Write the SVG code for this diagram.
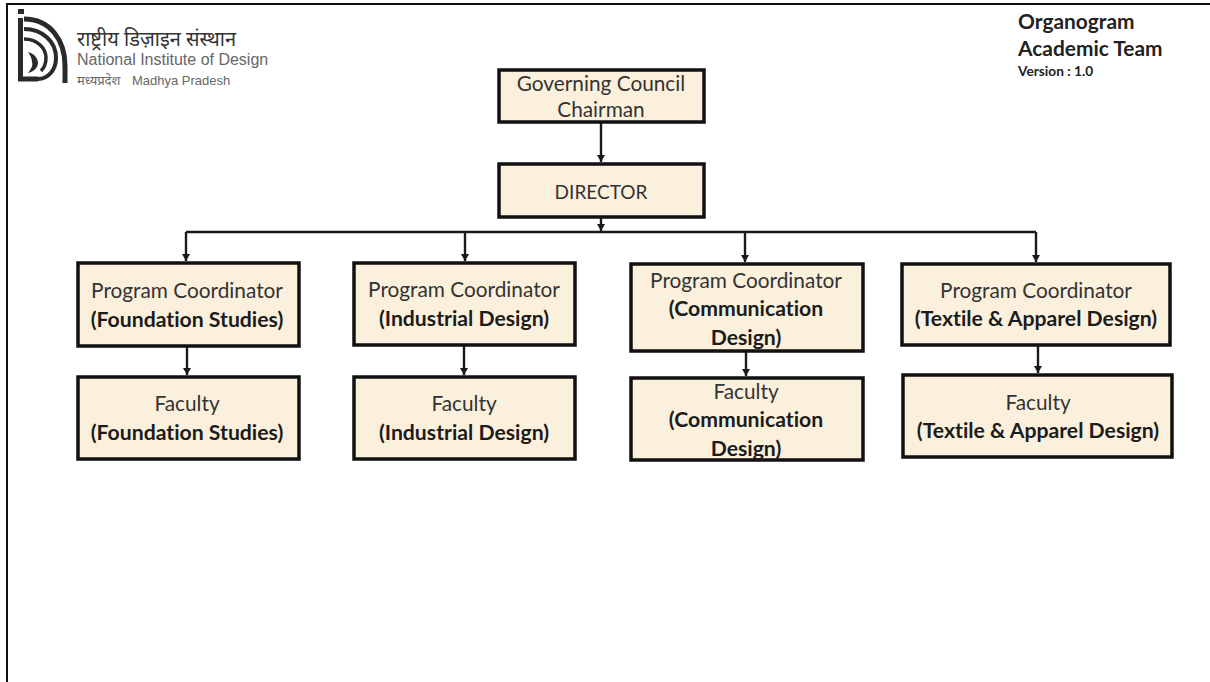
<svg xmlns="http://www.w3.org/2000/svg" width="1210" height="682" viewBox="0 0 1210 682">
<style>
.box{fill:#fbf0dc;stroke:#111;stroke-width:3.5}
.t{font-family:Lato,"Open Sans",sans-serif;font-size:20.8px;fill:#333;text-anchor:middle;font-variant-ligatures:none}
.b{font-size:21.2px;font-weight:700;fill:#1c1c1c}
.c{fill:none;stroke:#1a1a1a;stroke-width:2.4}
.h{font-family:Lato,"Open Sans",sans-serif;font-weight:700;fill:#222;font-variant-ligatures:none}
</style>
<defs><marker id="a" markerUnits="userSpaceOnUse" markerWidth="10" markerHeight="10" refX="7" refY="4" orient="auto"><path d="M0 0L7 4L0 8Z" fill="#1a1a1a"/></marker></defs>
<rect width="1210" height="682" fill="#fff"/>
<path id="frame" d="M7 682V4H1210" fill="none" stroke="#111" stroke-width="2"/>
<g id="logo">
<rect x="18" y="9" width="6" height="5" fill="#2a2a2a"/>
<path d="M20.5 18V79H38" fill="none" stroke="#2a2a2a" stroke-width="5"/>
<g fill="none" stroke="#2a2a2a">
<path stroke-width="5" d="M24 19C50 19 65 40 65 66V83"/>
<path stroke-width="4" d="M24 29C43 29 56 42 56 58C56 70 48 79 38 79"/>
<path stroke-width="3.5" d="M24 39C37 39 46 48 46 58C46 64 44 68 41 71"/>
</g>
<path d="M28 52C36 54 38 60 38 63C38 68 33 72 28 73C32 68 33 65 32 62C32 58 30 55 28 52Z" fill="#2a2a2a"/>
<text x="77" y="46" font-family="'Noto Sans',sans-serif" font-size="20" fill="#333">राष्ट्रीय डिज़ाइन संस्थान</text>
<text x="77" y="65" font-family="'Liberation Sans',sans-serif" font-size="16" fill="#666">National Institute of Design</text>
<text x="77" y="85" font-family="'Noto Sans',sans-serif" font-size="13" fill="#666">मध्यप्रदेश</text>
<text x="132" y="85" font-family="'Liberation Sans',sans-serif" font-size="13" fill="#666">Madhya Pradesh</text>
</g>
<g id="title">
<text class="h" x="1018" y="29" font-size="20.9">Organogram</text>
<text class="h" x="1018" y="56" font-size="20.9">Academic Team</text>
<text class="h" x="1018" y="76" font-size="13.7">Version : 1.0</text>
</g>
<g id="connectors">
<path class="c" marker-end="url(#a)" d="M601 123V162"/>
<path class="c" marker-end="url(#a)" d="M601 217V231"/>
<path class="c" d="M186 232H1036"/>
<path class="c" marker-end="url(#a)" d="M186 232V261"/>
<path class="c" marker-end="url(#a)" d="M465 232V261"/>
<path class="c" marker-end="url(#a)" d="M745 232V262"/>
<path class="c" marker-end="url(#a)" d="M1036 232V262"/>
<path class="c" marker-end="url(#a)" d="M187 347V375"/>
<path class="c" marker-end="url(#a)" d="M464 346V375"/>
<path class="c" marker-end="url(#a)" d="M746 352V376"/>
<path class="c" marker-end="url(#a)" d="M1038 346V373"/>
</g>
<g id="governing"><rect class="box" x="499" y="70" width="205" height="52"/><text class="t" x="601" y="91">Governing Council</text><text class="t" x="601" y="117">Chairman</text></g>
<g id="director"><rect class="box" x="499" y="164" width="205" height="53"/><text class="t" x="601" y="199" style="font-size:19px">DIRECTOR</text></g>
<g id="pc1"><rect class="box" x="78" y="263" width="221" height="83"/><text class="t" x="187" y="298">Program Coordinator</text><text class="t b" x="187" y="327">(Foundation Studies)</text></g>
<g id="f1"><rect class="box" x="78" y="377" width="221" height="82"/><text class="t" x="187" y="411">Faculty</text><text class="t b" x="187" y="440">(Foundation Studies)</text></g>
<g id="pc2"><rect class="box" x="354" y="263" width="221" height="82"/><text class="t" x="464" y="297">Program Coordinator</text><text class="t b" x="464" y="326">(Industrial Design)</text></g>
<g id="f2"><rect class="box" x="354" y="377" width="221" height="82"/><text class="t" x="464" y="411">Faculty</text><text class="t b" x="464" y="440">(Industrial Design)</text></g>
<g id="pc3"><rect class="box" x="631" y="264" width="232" height="87"/><text class="t" x="746" y="288">Program Coordinator</text><text class="t b" x="746" y="316">(Communication</text><text class="t b" x="746" y="345">Design)</text></g>
<g id="f3"><rect class="box" x="631" y="378" width="232" height="82"/><text class="t" x="746" y="399">Faculty</text><text class="t b" x="746" y="427">(Communication</text><text class="t b" x="746" y="456">Design)</text></g>
<g id="pc4"><rect class="box" x="902" y="264" width="268" height="81"/><text class="t" x="1036" y="298">Program Coordinator</text><text class="t b" x="1036" y="326">(Textile &amp; Apparel Design)</text></g>
<g id="f4"><rect class="box" x="903" y="375" width="269" height="82"/><text class="t" x="1038" y="410">Faculty</text><text class="t b" x="1038" y="438">(Textile &amp; Apparel Design)</text></g>
</svg>
